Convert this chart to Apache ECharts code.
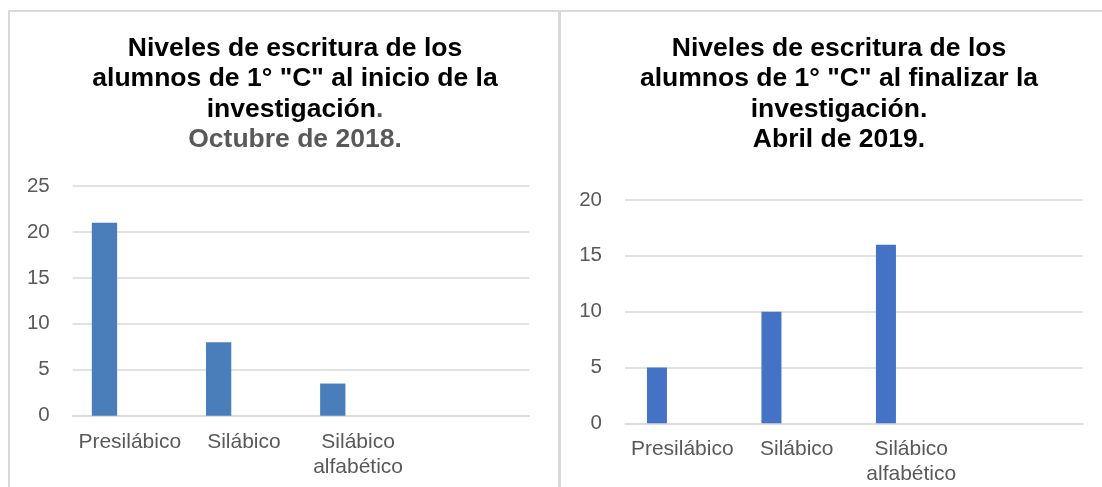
<!DOCTYPE html>
<html>
<head>
<meta charset="utf-8">
<script src="https://cdn.jsdelivr.net/npm/echarts@6/dist/echarts.min.js"></script>
<style>
    html, body {
        margin: 0;
        padding: 0;
        background: #fff;
    }
    #chart {
        position: absolute;
        left: 0;
        top: 0;
        width: 1102px;
        height: 487px;
    }
    .marco {
        position: absolute;
        top: 10px;
        height: 520px;
        border: 2px solid #d9d9d9;
        box-sizing: border-box;
        pointer-events: none;
    }
</style>
</head>
<body>
<div class="marco" style="left: 8px; width: 552px;"></div>
<div class="marco" style="left: 559px; width: 600px;"></div>
<div id="chart"></div>
<script>
// categorías (la última va vacía, como en el original)
const categorias = ["Presilábico", "Silábico", "Silábico alfabético", ""];
// octubre 2018 - inicio de la investigación
const valoresInicio = [21, 8, 3.5, null];
// abril 2019 - al finalizar la investigación
const valoresFinal = [5, 10, 16, null];
// ticks del eje y
const ticksInicio = [0, 5, 10, 15, 20, 25];
const ticksFinal = [0, 5, 10, 15, 20];

const fuente = "'Liberation Sans', Arial, sans-serif";
const colorTexto = "#595959";
const colorLinea = "#d9d9d9";

function ejeX(idx, margen) {
    return {
        type: "category",
        gridIndex: idx,
        data: categorias,
        axisLine: {
            lineStyle: { color: colorLinea, width: 1.5 }
        },
        axisTick: { show: false },
        axisLabel: {
            color: colorTexto,
            fontFamily: fuente,
            fontSize: 21,
            lineHeight: 25,
            margin: margen,
            interval: 0,
            formatter: (v) => v.replace(" ", "\n")
        },
        splitLine: { show: false }
    };
}

function ejeY(idx, ticks) {
    return {
        type: "value",
        gridIndex: idx,
        min: ticks[0],
        max: ticks[ticks.length - 1],
        interval: ticks[1] - ticks[0],
        axisLine: { show: false },
        axisTick: { show: false },
        axisLabel: {
            color: colorTexto,
            fontFamily: fuente,
            fontSize: 20.5,
            margin: 23
        },
        splitLine: {
            show: true,
            lineStyle: { color: colorLinea, width: 1.5 }
        }
    };
}

const chart = echarts.init(document.getElementById("chart"));

let option = {
    animation: false,
    title: [
        {
            left: 290,
            top: 28,
            textAlign: "center",
            text: '{a|Niveles de escritura de los}\n{a|alumnos de 1° "C" al inicio de la}\n{a|investigación}{b|.}\n{b|Octubre de 2018.}',
            textStyle: {
                rich: {
                    a: { color: "#000", fontWeight: "bold", fontSize: 26.5, fontFamily: fuente, lineHeight: 30.5 },
                    b: { color: colorTexto, fontWeight: "bold", fontSize: 26.5, fontFamily: fuente, lineHeight: 30.5 }
                }
            }
        },
        {
            left: 834,
            top: 28,
            textAlign: "center",
            text: 'Niveles de escritura de los\nalumnos de 1° "C" al finalizar la\ninvestigación.\nAbril de 2019.',
            textStyle: {
                color: "#000",
                fontWeight: "bold",
                fontSize: 26.5,
                fontFamily: fuente,
                lineHeight: 30.5
            }
        }
    ],
    grid: [
        { left: 72.7, right: 572.7, top: 186, bottom: 71.3 },
        { left: 625, right: 19, top: 200, bottom: 63.7 }
    ],
    xAxis: [ejeX(0, 14), ejeX(1, 13)],
    yAxis: [ejeY(0, ticksInicio), ejeY(1, ticksFinal)],
    series: [
        {
            type: "bar",
            xAxisIndex: 0,
            yAxisIndex: 0,
            data: valoresInicio,
            barWidth: 25.3,
            barGap: "100%",
            itemStyle: { color: "#4a7ebb" }
        },
        {
            // serie vacía para desplazar la barra como en Excel
            type: "bar",
            xAxisIndex: 0,
            yAxisIndex: 0,
            data: [],
            barWidth: 25.3
        },
        {
            type: "bar",
            xAxisIndex: 1,
            yAxisIndex: 1,
            data: valoresFinal,
            barWidth: 20,
            barGap: "153%",
            itemStyle: { color: "#4472c4" }
        },
        {
            type: "bar",
            xAxisIndex: 1,
            yAxisIndex: 1,
            data: [],
            barWidth: 20
        }
    ]
};

chart.setOption(option);
</script>
</body>
</html>
